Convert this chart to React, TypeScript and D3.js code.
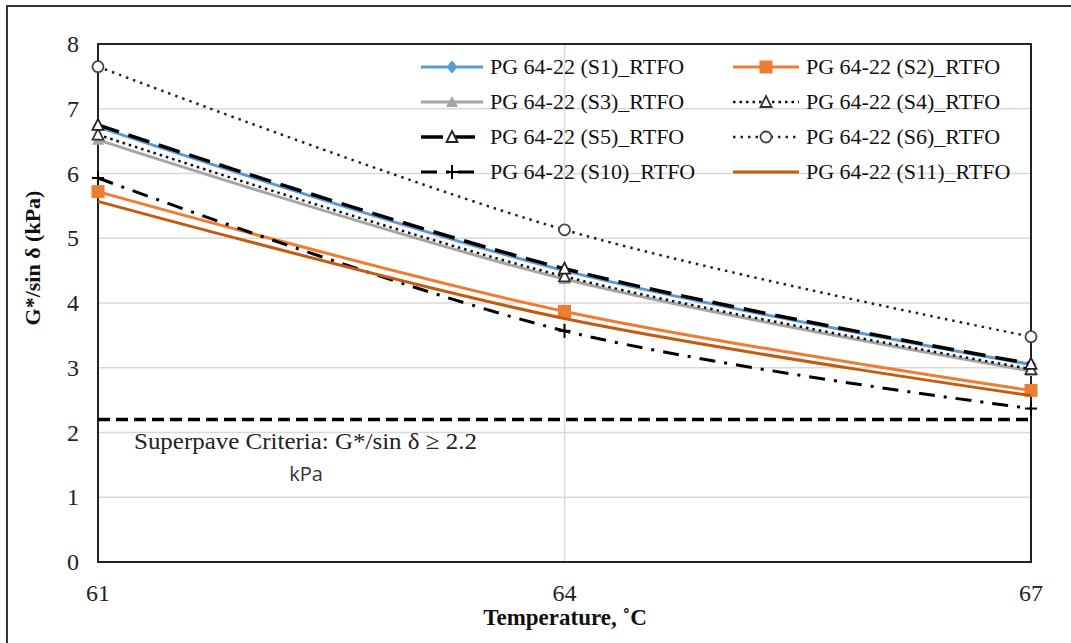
import React from "react";
import * as d3 from "d3";

const temps = [61, 64, 67];
const seriesNames = [
  "PG 64-22 (S1)_RTFO",
  "PG 64-22 (S2)_RTFO",
  "PG 64-22 (S3)_RTFO",
  "PG 64-22 (S4)_RTFO",
  "PG 64-22 (S5)_RTFO",
  "PG 64-22 (S6)_RTFO",
  "PG 64-22 (S10)_RTFO",
  "PG 64-22 (S11)_RTFO",
];
const s1 = [6.72, 4.5, 3.05];
const s2 = [5.72, 3.87, 2.65];
const s3 = [6.52, 4.37, 2.95];
const s4 = [6.6, 4.41, 2.98];
const s5 = [6.75, 4.53, 3.06];
const s6 = [7.65, 5.13, 3.48];
const s10 = [5.93, 3.57, 2.37];
const s11 = [5.57, 3.76, 2.57];
const yTicks = [0, 1, 2, 3, 4, 5, 6, 7, 8];
const xTicks = [61, 64, 67];
const criterion = 2.2;

type Style = {
  color: string;
  width: number;
  dash?: string;
  marker: "diamond" | "square" | "triangleFilled" | "triangleOpen" | "circleOpen" | "plus" | "none";
  markerColor: string;
};

const styles: Style[] = [
  { color: "#5B9BD5", width: 3, marker: "diamond", markerColor: "#5B9BD5" },
  { color: "#ED7D31", width: 3, marker: "square", markerColor: "#ED7D31" },
  { color: "#A5A5A5", width: 3, marker: "triangleFilled", markerColor: "#A5A5A5" },
  { color: "#111", width: 2.5, dash: "2.5 4", marker: "triangleOpen", markerColor: "#333" },
  { color: "#000", width: 3.5, dash: "22 10", marker: "triangleOpen", markerColor: "#222" },
  { color: "#222", width: 2.5, dash: "2.5 5", marker: "circleOpen", markerColor: "#444" },
  { color: "#000", width: 3, dash: "16 9 3 9", marker: "plus", markerColor: "#000" },
  { color: "#C55A11", width: 3, marker: "none", markerColor: "#C55A11" },
];

const allSeries = [s1, s2, s3, s4, s5, s6, s10, s11];

function Marker({ kind, x, y, color }: { kind: Style["marker"]; x: number; y: number; color: string }) {
  switch (kind) {
    case "diamond":
      return <path d={`M${x},${y - 6}L${x + 5},${y}L${x},${y + 6}L${x - 5},${y}Z`} fill={color} stroke={color} strokeWidth={1} />;
    case "square":
      return <rect x={x - 6.5} y={y - 6.5} width={13} height={13} fill={color} />;
    case "triangleFilled":
      return <path d={`M${x},${y - 6}L${x + 6},${y + 5}L${x - 6},${y + 5}Z`} fill={color} />;
    case "triangleOpen":
      return <path d={`M${x},${y - 6}L${x + 5.5},${y + 5}L${x - 5.5},${y + 5}Z`} fill="#fff" stroke={color} strokeWidth={1.8} />;
    case "circleOpen":
      return <circle cx={x} cy={y} r={5.5} fill="#fff" stroke={color} strokeWidth={1.8} />;
    case "plus":
      return (
        <g stroke={color} strokeWidth={2}>
          <line x1={x - 6} y1={y} x2={x + 6} y2={y} />
          <line x1={x} y1={y - 7} x2={x} y2={y + 7} />
        </g>
      );
    default:
      return null;
  }
}

export default function App() {
  const W = 1071;
  const H = 643;
  const left = 98;
  const right = 1031;
  const top = 44;
  const bottom = 562;
  const x = d3.scaleLinear().domain([61, 67]).range([left, right]);
  const y = d3.scaleLinear().domain([0, 8]).range([bottom, top]);
  const line = d3
    .line<[number, number]>()
    .x((d) => x(d[0]))
    .y((d) => y(d[1]))
    .curve(d3.curveCatmullRom.alpha(0.5));

  const serif = "'Liberation Serif', 'Times New Roman', serif";

  const legendRows = [67, 102, 137, 172];
  const legendCols = [
    { x1: 421, x2: 483, tx: 490 },
    { x1: 733, x2: 799, tx: 806 },
  ];

  return (
    <svg width={W} height={H} style={{ position: "absolute", left: 0, top: 0, background: "#fff" }} fontFamily={serif}>
      <rect x={0} y={0} width={W} height={H} fill="#fff" />
      {/* outer frame */}
      <path d={`M7,${H + 5}L7,6L${W + 5},6`} fill="none" stroke="#333" strokeWidth={2} />
      {/* gridlines */}
      {yTicks.map((t) => (
        <line key={`g${t}`} x1={left} x2={right} y1={y(t)} y2={y(t)} stroke="#d9d9d9" strokeWidth={1.5} />
      ))}
      {xTicks.slice(1, -1).map((t) => (
        <line key={`gx${t}`} x1={x(t)} x2={x(t)} y1={top} y2={bottom} stroke="#d9d9d9" strokeWidth={1.5} />
      ))}
      {/* plot border */}
      <rect x={left} y={top} width={right - left} height={bottom - top} fill="none" stroke="#222" strokeWidth={2} />
      {/* criterion line */}
      <line x1={left} x2={right} y1={y(criterion)} y2={y(criterion)} stroke="#000" strokeWidth={3.5} strokeDasharray="12 6" />
      <text x={134} y={449} fontSize={24} textLength={343} lengthAdjust="spacingAndGlyphs" fill="#222">
        Superpave Criteria: G*/sin δ ≥ 2.2
      </text>
      <text x={306} y={481} fontSize={20} textAnchor="middle" fill="#333" fontFamily="'Open Sans', 'DejaVu Sans', sans-serif">
        kPa
      </text>
      {/* series */}
      {allSeries.map((vals, i) => {
        const st = styles[i];
        const pts = temps.map((t, j) => [t, vals[j]] as [number, number]);
        return (
          <g key={`s${i}`}>
            <path d={line(pts) || ""} fill="none" stroke={st.color} strokeWidth={st.width} strokeDasharray={st.dash} />
            {pts.map((p, j) => (
              <Marker key={j} kind={st.marker} x={x(p[0])} y={y(p[1])} color={st.markerColor} />
            ))}
          </g>
        );
      })}
      {/* y ticks */}
      {yTicks.map((t) => (
        <text key={`yt${t}`} x={79} y={y(t) + 8} fontSize={24} textAnchor="end" fill="#222">
          {t}
        </text>
      ))}
      {xTicks.map((t) => (
        <text key={`xt${t}`} x={x(t)} y={601} fontSize={24} textAnchor="middle" fill="#222">
          {t}
        </text>
      ))}
      <text x={565} y={625} fontSize={23} fontWeight="bold" textAnchor="middle" fill="#111">
        Temperature, ˚C
      </text>
      <text transform={`translate(40,258) rotate(-90)`} fontSize={22} fontWeight="bold" textAnchor="middle" fill="#111">
        G*/sin δ (kPa)
      </text>
      {/* legend */}
      {seriesNames.map((name, i) => {
        const col = legendCols[i % 2];
        const ry = legendRows[Math.floor(i / 2)];
        const st = styles[i];
        const mx = (col.x1 + col.x2) / 2;
        return (
          <g key={`l${i}`}>
            <line x1={col.x1} x2={col.x2} y1={ry} y2={ry} stroke={st.color} strokeWidth={st.width} strokeDasharray={st.dash} />
            <Marker kind={st.marker} x={mx} y={ry} color={st.markerColor} />
            <text x={col.tx} y={ry + 7} fontSize={22} fill="#111">
              {name}
            </text>
          </g>
        );
      })}
    </svg>
  );
}
